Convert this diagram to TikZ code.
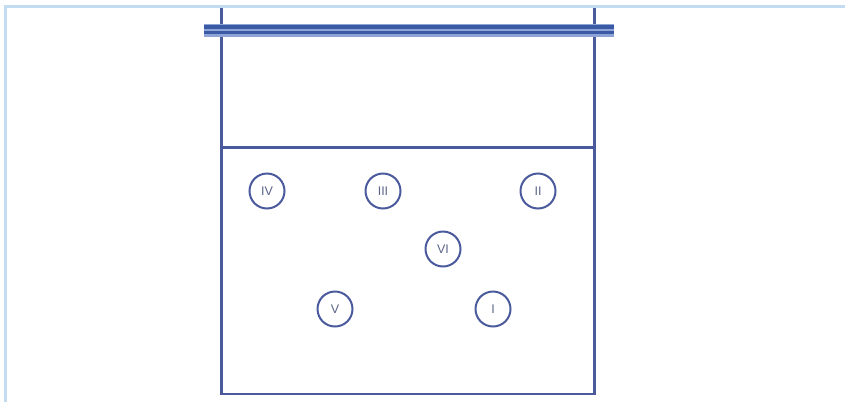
\documentclass[tikz,border=0pt]{standalone}
\usepackage{fontspec}
\setsansfont{Liberation Sans}
\usepackage{xcolor}
\definecolor{wallblue}{HTML}{4A5A9C}
\definecolor{barblue}{HTML}{3A5AA6}
\definecolor{barlight}{HTML}{8EA4D6}
\definecolor{framesky}{HTML}{C4DCF2}
\definecolor{numgray}{HTML}{5A6488}

\begin{document}
\begin{tikzpicture}[
  x=1pt, y=-1pt,
  wall/.style={draw=wallblue, line width=2.2pt},
  frameline/.style={draw=framesky, line width=2.2pt},
  spot/.style={
    circle, draw=wallblue, line width=2pt, minimum size=35pt, inner sep=0pt,
    font=\sffamily\fontsize{12.5}{12.5}\selectfont, text=numgray
  }
]
  \useasboundingbox (0,0) rectangle (845,402);

  \draw[frameline] (5.5,402) -- (5.5,6.5) -- (845,6.5);

  % tank and layer line
  \draw[wall] (221.5,7.5) -- (221.5,394) -- (594.5,394) -- (594.5,7.5);
  \draw[wall] (221.5,147.5) -- (594.5,147.5);

  % double bar across the top
  \fill[barlight] (204,24) rectangle (614,36.5);
  \draw[barblue, line width=3.2pt] (204,27) -- (614,27);
  \draw[barblue, line width=2.8pt] (204,32.5) -- (614,32.5);

  \node[spot] (sIV) at (267,191) {IV};
  \node[spot] (sIII) at (383,191) {III};
  \node[spot] (sII) at (538,191) {II};
  \node[spot] (sVI) at (443,249) {VI};
  \node[spot] (sV) at (335,309) {V};
  \node[spot] (sI) at (493,309) {I};
\end{tikzpicture}
\end{document}
